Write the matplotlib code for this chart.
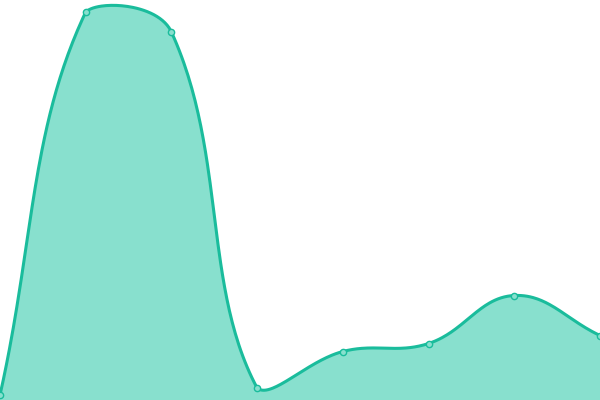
import numpy as np
import matplotlib
matplotlib.use("Agg")
import matplotlib.pyplot as plt

# data
labels = ["A", "B", "C", "D", "E", "F", "G", "H"]
values = [5, 388, 368, 12, 48.5, 56.5, 104.5, 64.5]

line_color = "#1abc9c"
fill_color = "#88e0ce"


def spline_points(xs, ys, tension=0.4, steps=60, lo=0, hi=400):
    # chart.js style cardinal spline, control points capped to the area
    n = len(xs)
    cps = []
    for i in range(n):
        p = (xs[max(i - 1, 0)], ys[max(i - 1, 0)])
        c = (xs[i], ys[i])
        nx = (xs[min(i + 1, n - 1)], ys[min(i + 1, n - 1)])
        d01 = np.hypot(c[0] - p[0], c[1] - p[1])
        d12 = np.hypot(nx[0] - c[0], nx[1] - c[1])
        s01 = d01 / (d01 + d12) if d01 + d12 else 0
        s12 = d12 / (d01 + d12) if d01 + d12 else 0
        fa, fb = tension * s01, tension * s12
        prev_cp = (c[0] - fa * (nx[0] - p[0]), np.clip(c[1] - fa * (nx[1] - p[1]), lo, hi))
        next_cp = (c[0] + fb * (nx[0] - p[0]), np.clip(c[1] + fb * (nx[1] - p[1]), lo, hi))
        cps.append((prev_cp, next_cp))
    out_x, out_y = [], []
    t = np.linspace(0, 1, steps)
    for i in range(n - 1):
        p0 = np.array([xs[i], ys[i]])
        p1 = np.array(cps[i][1])
        p2 = np.array(cps[i + 1][0])
        p3 = np.array([xs[i + 1], ys[i + 1]])
        pts = ((1 - t) ** 3)[:, None] * p0 + (3 * (1 - t) ** 2 * t)[:, None] * p1 \
            + (3 * (1 - t) * t ** 2)[:, None] * p2 + (t ** 3)[:, None] * p3
        out_x.extend(pts[:, 0])
        out_y.extend(pts[:, 1])
    return np.array(out_x), np.array(out_y)


x = np.linspace(0, 600, len(values))
sx, sy = spline_points(x, values)

fig = plt.figure(figsize=(6, 4), dpi=100)
ax = fig.add_axes([0, 0, 1, 1])
ax.fill_between(sx, sy, 0, color=fill_color, lw=0)
ax.plot(sx, sy, color=line_color, lw=2.2, solid_capstyle="round")
ax.plot(x, values, "o", ms=4.5, mfc=fill_color, mec=line_color, mew=1, clip_on=False)
ax.set_xlim(0, 600)
ax.set_ylim(0, 400)
ax.axis("off")
fig.savefig("out.png", dpi=100)
